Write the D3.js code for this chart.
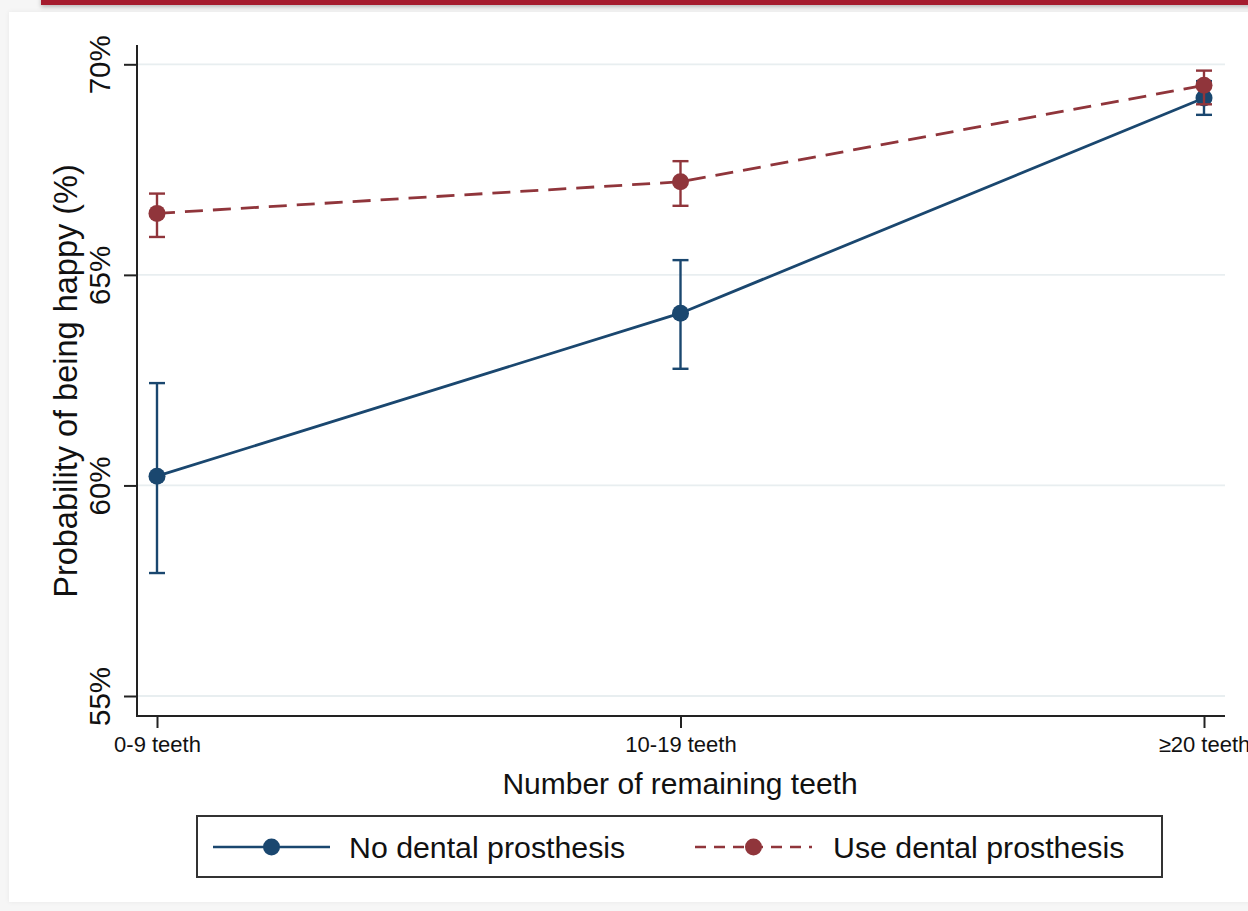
<!DOCTYPE html>
<html>
<head>
<meta charset="utf-8">
<script src="https://cdn.jsdelivr.net/npm/d3@7"></script>
<style>
  html, body { margin: 0; padding: 0; background: #f6f6f6; }
  svg { display: block; font-family: "Liberation Sans", Arial, Helvetica, sans-serif; }
</style>
</head>
<body>
<svg id="chart" width="1248" height="911"></svg>
<script>
// ---- data ----
const categories = ["0-9 teeth", "10-19 teeth", "\u226520 teeth"];
const seriesNames = ["No dental prosthesis", "Use dental prosthesis"];
const noProsthesis     = [60.22, 64.09, 69.20];
const noProsthesisLow  = [57.92, 62.77, 68.80];
const noProsthesisHigh = [62.43, 65.35, 69.60];
const useProsthesis     = [66.46, 67.21, 69.50];
const useProsthesisLow  = [65.90, 66.64, 69.05];
const useProsthesisHigh = [66.93, 67.70, 69.85];
const yTicks = [55, 60, 65, 70];
const yTickLabels = ["55%", "60%", "65%", "70%"];

const series = [
  { name: seriesNames[0], values: noProsthesis, lo: noProsthesisLow, hi: noProsthesisHigh, color: "#1a476f", dash: null },
  { name: seriesNames[1], values: useProsthesis, lo: useProsthesisLow, hi: useProsthesisHigh, color: "#90353b", dash: "18,10" }
];

const svg = d3.select("#chart");

// page chrome
const defs = svg.append("defs");
const f = defs.append("filter").attr("id", "sh").attr("x", "-5%").attr("y", "-50%").attr("width", "110%").attr("height", "300%");
f.append("feDropShadow").attr("dx", 0).attr("dy", 2).attr("stdDeviation", 2).attr("flood-color", "#000").attr("flood-opacity", 0.25);
const f2 = defs.append("filter").attr("id", "sh2").attr("x", "-2%").attr("y", "-2%").attr("width", "104%").attr("height", "104%");
f2.append("feDropShadow").attr("dx", 0).attr("dy", 0).attr("stdDeviation", 2).attr("flood-color", "#000").attr("flood-opacity", 0.06);

svg.append("rect").attr("x", 9).attr("y", 12).attr("width", 1260).attr("height", 890)
  .attr("fill", "#fff").attr("filter", "url(#sh2)");
svg.append("rect").attr("x", 41).attr("y", -5).attr("width", 1220).attr("height", 10)
  .attr("fill", "#a51c2e").attr("filter", "url(#sh)");

// scales
const x = d3.scalePoint().domain(categories).range([157, 1204]);
const y = d3.scaleLinear().domain([55, 70]).range([696, 64.3]);

const axisLeft = 137, axisRight = 1225, axisBottom = 716, axisTop = 45;
const axisColor = "#222";

// gridlines
svg.append("g").selectAll("line").data(yTicks).join("line")
  .attr("x1", axisLeft).attr("x2", axisRight)
  .attr("y1", d => y(d)).attr("y2", d => y(d))
  .attr("stroke", "#e8eef0").attr("stroke-width", 1.8);

// y axis
const yAxis = d3.axisLeft(y).tickValues(yTicks).tickSize(13).tickFormat((d, i) => yTickLabels[i]);
const gy = svg.append("g").attr("transform", `translate(${axisLeft},0)`).call(yAxis);
gy.select(".domain").remove();
gy.selectAll(".tick line").attr("stroke", axisColor).attr("stroke-width", 2);
gy.selectAll(".tick text")
  .attr("font-size", 29.5).attr("fill", "#111")
  .attr("x", 0).attr("dy", 0)
  .attr("text-anchor", "middle")
  .attr("transform", "translate(-27,0) rotate(-90)");
svg.append("line").attr("x1", axisLeft).attr("x2", axisLeft).attr("y1", axisTop).attr("y2", axisBottom + 1)
  .attr("stroke", axisColor).attr("stroke-width", 2);

// x axis
const xAxis = d3.axisBottom(x).tickSize(12).tickPadding(8);
const gx = svg.append("g").attr("transform", `translate(0,${axisBottom})`).call(xAxis);
gx.select(".domain").remove();
gx.selectAll(".tick line").attr("stroke", axisColor).attr("stroke-width", 2);
gx.selectAll(".tick text").attr("font-size", 22).attr("fill", "#111");
svg.append("line").attr("x1", axisLeft - 1).attr("x2", axisRight).attr("y1", axisBottom).attr("y2", axisBottom)
  .attr("stroke", axisColor).attr("stroke-width", 2);

// axis titles
svg.append("text").attr("x", 680).attr("y", 794).attr("text-anchor", "middle")
  .attr("font-size", 30).attr("fill", "#111").text("Number of remaining teeth");
svg.append("text").attr("transform", "translate(77,381) rotate(-90)").attr("text-anchor", "middle")
  .attr("font-size", 32.5).attr("fill", "#111").text("Probability of being happy (%)");

// series
const line = d3.line().x((d, i) => x(categories[i])).y(d => y(d));
series.forEach(s => {
  const g = svg.append("g");
  g.append("path").datum(s.values).attr("d", line)
    .attr("fill", "none").attr("stroke", s.color).attr("stroke-width", 2.8)
    .attr("stroke-dasharray", s.dash);
  categories.forEach((c, i) => {
    const cx = x(c);
    g.append("line").attr("x1", cx).attr("x2", cx).attr("y1", y(s.lo[i])).attr("y2", y(s.hi[i]))
      .attr("stroke", s.color).attr("stroke-width", 2.4);
    [s.lo[i], s.hi[i]].forEach(v => {
      g.append("line").attr("x1", cx - 8).attr("x2", cx + 8).attr("y1", y(v)).attr("y2", y(v))
        .attr("stroke", s.color).attr("stroke-width", 2.4);
    });
  });
  g.selectAll("circle").data(s.values).join("circle")
    .attr("cx", (d, i) => x(categories[i])).attr("cy", d => y(d)).attr("r", 8.5)
    .attr("fill", s.color);
});

// legend
const lg = svg.append("g");
lg.append("rect").attr("x", 197).attr("y", 816).attr("width", 965).attr("height", 61)
  .attr("fill", "#fff").attr("stroke", "#333").attr("stroke-width", 2);
const legendItems = [
  { s: series[0], x1: 213, x2: 330, tx: 349 },
  { s: series[1], x1: 695, x2: 812, tx: 833 }
];
legendItems.forEach(it => {
  const ly = 847;
  lg.append("line").attr("x1", it.x1).attr("x2", it.x2).attr("y1", ly).attr("y2", ly)
    .attr("stroke", it.s.color).attr("stroke-width", 2.6).attr("stroke-dasharray", it.s.dash ? "11,8" : null);
  lg.append("circle").attr("cx", (it.x1 + it.x2) / 2).attr("cy", ly).attr("r", 8.5).attr("fill", it.s.color);
  lg.append("text").attr("x", it.tx).attr("y", ly + 11).attr("font-size", 30.3).attr("fill", "#111").text(it.s.name);
});
</script>
</body>
</html>
